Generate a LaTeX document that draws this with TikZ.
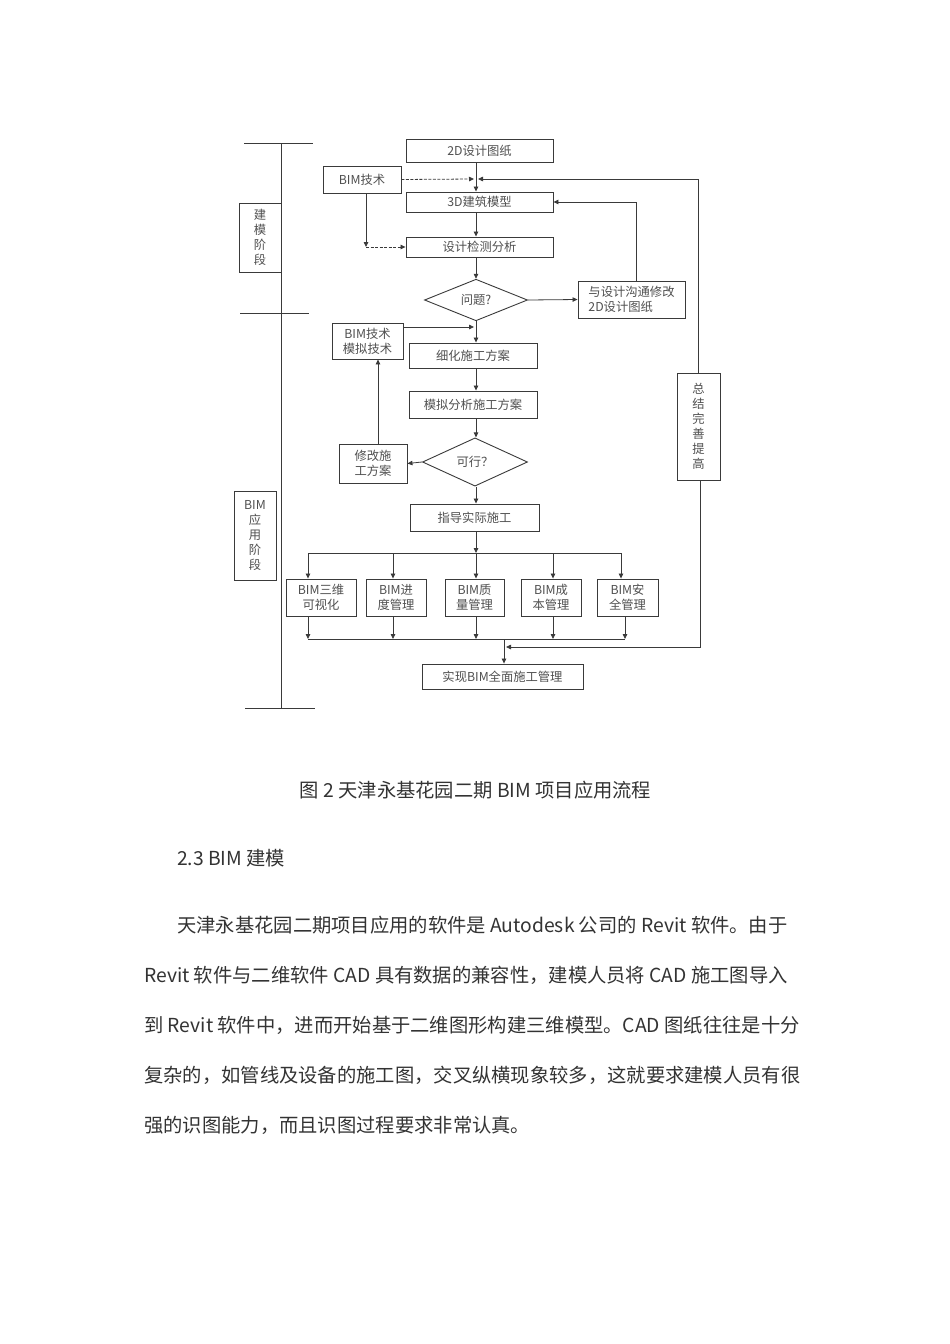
\documentclass[tikz,border=0pt]{standalone}
\usepackage{fontspec}
\setmainfont{Noto Sans CJK SC}
\usetikzlibrary{arrows.meta,shapes.geometric}
\definecolor{ln}{HTML}{3A3A3A}
\definecolor{tx}{HTML}{505050}
\definecolor{bodyc}{HTML}{333333}
\begin{document}
\begin{tikzpicture}[x=1pt,y=-1pt,
  box/.style={draw=ln,line width=0.9pt,rectangle,inner sep=0pt,text=tx,
    font=\fontsize{12.3}{15}\selectfont,align=center},
  dia/.style={draw=ln,line width=0.9pt,diamond,inner sep=0pt,text=tx,
    font=\fontsize{12.3}{15}\selectfont},
  ln/.style={draw=ln,line width=0.8pt},
  arr/.style={draw=ln,line width=0.8pt,-{Triangle[length=5pt,width=4.5pt]}},
  dsh/.style={dash pattern=on 3pt off 1.5pt},
  bodytext/.style={anchor=base west,inner sep=0pt,text=bodyc,font=\fontsize{19.3}{24}\selectfont}
]
\useasboundingbox (0,0) rectangle (950,1344);
\fill[white] (0,0) rectangle (950,1344);

% timeline
\coordinate (tl0) at (281,143);
\coordinate (tl1) at (281,708);
\draw[ln] (tl0) -- (tl1);
\draw[ln] (244,143) -- (313,143);
\draw[ln] (240,313) -- (309,313);
\draw[ln] (245,708) -- (315,708);
\node[box,minimum width=42pt,minimum height=69pt] (st1) at (260,237.5) {建\\模\\阶\\段};
\node[box,minimum width=42pt,minimum height=89pt] (st2) at (255,535.5) {BIM\\应\\用\\阶\\段};

% nodes
\node[box,minimum width=147pt,minimum height=23pt] (d2) at (479.5,150.5) {2D设计图纸};
\node[box,minimum width=78pt,minimum height=27pt] (bim1) at (362,179.5) {BIM技术};
\node[box,minimum width=147pt,minimum height=20pt] (m3d) at (479.5,202) {3D建筑模型};
\node[box,minimum width=147pt,minimum height=20pt] (chk) at (479.5,247) {设计检测分析};
\node[dia,minimum width=103pt,minimum height=36pt] (q1) at (476,300) {问题?};
\node[box,minimum width=107pt,minimum height=37pt,align=left] (comm) at (631.5,299.5) {与设计沟通修改\\2D设计图纸};
\node[box,minimum width=71pt,minimum height=36pt] (bsim) at (367.5,341) {BIM技术\\模拟技术};
\node[box,minimum width=128pt,minimum height=25pt] (ref) at (473,355.5) {细化施工方案};
\node[box,minimum width=128pt,minimum height=27pt] (sim) at (473,404.5) {模拟分析施工方案};
\node[dia,minimum width=105pt,minimum height=36pt] (q2) at (475,462) {可行？};
\node[box,minimum width=68pt,minimum height=39pt] (mod) at (373,463.5) {修改施\\工方案};
\node[box,minimum width=43pt,minimum height=107pt] (sum) at (698.5,426.5) {总\\结\\完\\善\\提\\高};
\node[box,minimum width=129pt,minimum height=27pt] (gd) at (474.5,517.5) {指导实际施工};
\node[box,minimum width=70pt,minimum height=37pt] (b1) at (321,597.5) {BIM三维\\可视化};
\node[box,minimum width=60pt,minimum height=37pt] (b2) at (396,597.5) {BIM进\\度管理};
\node[box,minimum width=59pt,minimum height=37pt] (b3) at (474.5,597.5) {BIM质\\量管理};
\node[box,minimum width=60pt,minimum height=37pt] (b4) at (551,597.5) {BIM成\\本管理};
\node[box,minimum width=61pt,minimum height=37pt] (b5) at (627.5,597.5) {BIM安\\全管理};
\node[box,minimum width=161pt,minimum height=25pt] (fin) at (502.5,676.5) {实现BIM全面施工管理};

% connectors
\coordinate (j1) at (476,179);
\draw[ln] (d2.south -| j1) -- (j1);
\draw[arr] (j1) -- (m3d.north -| j1);
\draw[arr,dsh] (bim1.east) -- ([xshift=-2pt]j1);
\coordinate (rtop) at (698,179);
\draw[arr] (sum.north -| rtop) -- (rtop) -- ([xshift=2pt]j1);
\draw[arr] (m3d.south -| j1) -- (chk.north -| j1);
\coordinate (c1) at (366,247);
\draw[arr] (bim1.south -| c1) -- (c1);
\draw[arr,dsh] (c1) -- (chk.west);
\draw[arr] (chk.south -| j1) -- (q1.north);
\draw[arr] (q1.east) -- (comm.west);
\coordinate (c2) at (636,202);
\draw[arr] (comm.north -| c2) -- (c2) -- (m3d.east);
\coordinate (c3) at (476,327);
\draw[ln] (q1.south) -- (c3);
\draw[arr] (bsim.east |- c3) -- ([xshift=-2pt]c3);
\draw[arr] (c3) -- (ref.north -| c3);
\draw[arr] (ref.south -| c3) -- (sim.north -| c3);
\draw[arr] (sim.south -| c3) -- (q2.north -| c3);
\draw[arr] (q2.west) -- (mod.east);
\coordinate (c4) at (378,420);
\draw[arr] (mod.north -| c4) -- (bsim.south -| c4);
\draw[arr] (q2.south -| c3) -- (gd.north -| c3);
\coordinate (j2) at (476,553);
\draw[arr] (gd.south -| j2) -- (j2);
\coordinate (t1) at (308,553);
\coordinate (t2) at (393,553);
\coordinate (t3) at (476,553);
\coordinate (t4) at (553,553);
\coordinate (t5) at (621,553);
\draw[ln] (t1) -- (t5);
\draw[arr] (t1) -- (t1 |- b1.north);
\draw[arr] (t2) -- (t2 |- b2.north);
\draw[arr] (t3) -- (t3 |- b3.north);
\draw[arr] (t4) -- (t4 |- b4.north);
\draw[arr] (t5) -- (t5 |- b5.north);
\coordinate (u1) at (308,639);
\coordinate (u2) at (393,639);
\coordinate (u3) at (476,639);
\coordinate (u4) at (553,639);
\coordinate (u5) at (625,639);
\draw[arr] (b1.south -| u1) -- (u1);
\draw[arr] (b2.south -| u2) -- (u2);
\draw[arr] (b3.south -| u3) -- (u3);
\draw[arr] (b4.south -| u4) -- (u4);
\draw[arr] (b5.south -| u5) -- (u5);
\draw[ln] (u1) -- (u5);
\coordinate (j3) at (504,639);
\draw[arr] (j3) -- (fin.north -| j3);
\coordinate (c5) at (700,647);
\draw[arr] (sum.south -| c5) -- (c5) -- ([xshift=2pt]j3 |- c5);

% text
\node[anchor=base,inner sep=0pt,text=bodyc,font=\fontsize{19.3}{24}\selectfont] (cap) at (475.5,797.5) {图 2 天津永基花园二期 BIM 项目应用流程};
\node[bodytext] (hd) at (177,865.5) {2.3 BIM 建模};
\node[bodytext] (l1) at (177,932.5) {天津永基花园二期项目应用的软件是 Autodesk 公司的 Revit 软件。由于};
\node[bodytext] (l2) at (144,982.5) {Revit 软件与二维软件 CAD 具有数据的兼容性，建模人员将 CAD 施工图导入};
\node[bodytext] (l3) at (144,1032.5) {到 Revit 软件中，进而开始基于二维图形构建三维模型。CAD 图纸往往是十分};
\node[bodytext] (l4) at (144,1082.5) {复杂的，如管线及设备的施工图，交叉纵横现象较多，这就要求建模人员有很};
\node[bodytext] (l5) at (144,1132.5) {强的识图能力，而且识图过程要求非常认真。};
\end{tikzpicture}
\end{document}
